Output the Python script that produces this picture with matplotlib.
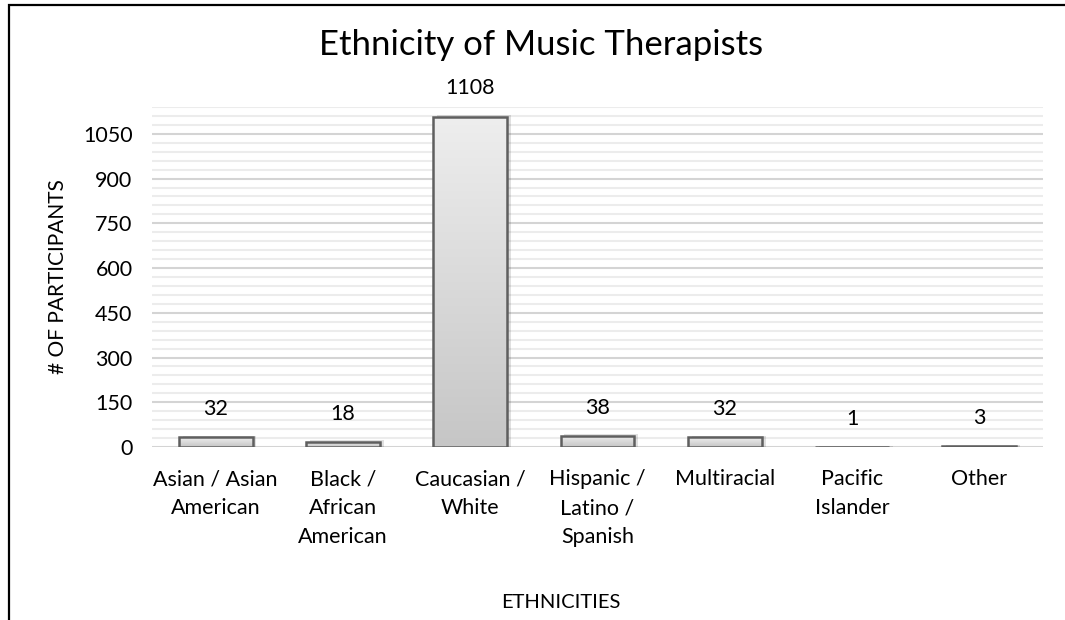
import numpy as np
import matplotlib.pyplot as plt
from matplotlib.patches import Rectangle
from matplotlib.colors import LinearSegmentedColormap

categories = ["Asian / Asian\nAmerican", "Black /\nAfrican\nAmerican", "Caucasian /\nWhite",
              "Hispanic /\nLatino /\nSpanish", "Multiracial", "Pacific\nIslander", "Other"]
counts = [32, 18, 1108, 38, 32, 1, 3]
major_ticks = [0, 150, 300, 450, 600, 750, 900, 1050]

plt.rcParams['font.family'] = ['Lato', 'DejaVu Sans']

fig = plt.figure(figsize=(10.65, 6.2), dpi=100)
ax = fig.add_axes([152 / 1065, 173 / 620, 891 / 1065, 340 / 620])

x = np.arange(len(counts))
width = 0.58
ymax = 1140

# gridlines: light minor every 30, darker major every 150
for v in np.arange(30, ymax + 1, 30):
    c = "#d4d4d4" if v % 150 == 0 else "#ececec"
    ax.axhline(v, color=c, linewidth=1.5, zorder=0)
ax.axhline(0, color="#d4d4d4", linewidth=1.5, zorder=0)

cmap = LinearSegmentedColormap.from_list("bar", ["#c6c6c6", "#eeeeee"])
grad = np.linspace(0, 1, 256).reshape(-1, 1)
for xi, h in zip(x, counts):
    # soft shadow
    ax.add_patch(Rectangle((xi - width / 2 + 0.03, 0), width, h + 4,
                           facecolor="#000000", alpha=0.12, edgecolor="none", zorder=1))
    im = ax.imshow(grad, extent=(xi - width / 2, xi + width / 2, 0, h), aspect="auto",
                   cmap=cmap, origin="lower", zorder=2)
    r = Rectangle((xi - width / 2, 0), width, h, facecolor="none",
                  edgecolor="#5f5f5f", linewidth=1.8, zorder=3)
    ax.add_patch(r)
    im.set_clip_path(r)
    ax.annotate(str(h), (xi, h), xytext=(0, 13), textcoords="offset points",
                ha="center", va="bottom", fontsize=15.5, color="#000000")

ax.set_xlim(-0.5, len(counts) - 0.5)
ax.set_ylim(0, ymax)
ax.set_yticks(major_ticks)
ax.set_xticks(x)
ax.set_xticklabels(categories, fontsize=15.5, linespacing=1.55)
ax.tick_params(axis="y", labelsize=15.5, length=0, pad=14)
ax.tick_params(axis="x", length=0, pad=16)
for s in ax.spines.values():
    s.set_visible(False)

fig.text(58 / 1065, 1 - 277 / 620, "# OF PARTICIPANTS", rotation=90,
         ha="center", va="center", fontsize=15)
fig.text(561 / 1065, 1 - 603 / 620, "ETHNICITIES", ha="center", va="center", fontsize=14.5)
fig.text(541 / 1065, 1 - 45 / 620, "Ethnicity of Music Therapists", ha="center",
         va="center", fontsize=25)

# outer frame
fig.patches.append(Rectangle((9 / 1065, -0.1), 1.2, 1 - 5 / 620 + 0.1,
                             transform=fig.transFigure, fill=False,
                             edgecolor="black", linewidth=1.6))

fig.savefig("out.png", dpi=100)
